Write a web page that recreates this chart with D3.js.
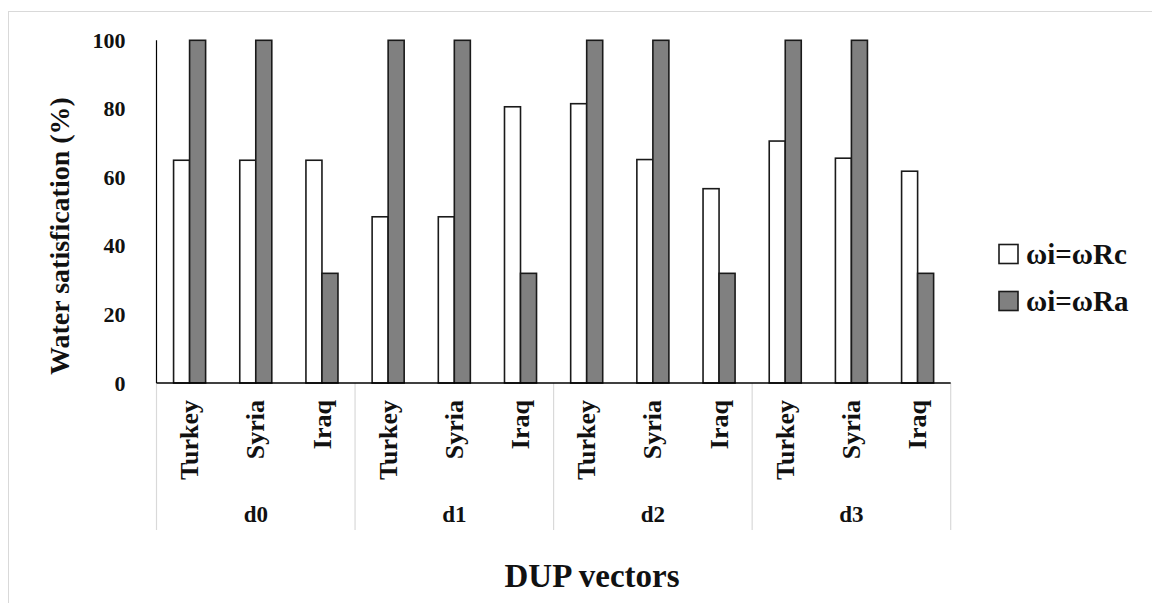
<!DOCTYPE html>
<html>
<head>
<meta charset="utf-8">
<script src="https://cdn.jsdelivr.net/npm/d3@7"></script>
<style>
  html, body { margin: 0; padding: 0; background: #fff; }
  svg { display: block; }
  text { font-family: "Liberation Serif", "Times New Roman", serif; font-weight: bold; fill: #111; }
</style>
</head>
<body>
<svg id="chart" width="1152" height="603"></svg>
<script>
// Water satisfaction per riparian country under each DUP vector
const vectors = ["d0", "d1", "d2", "d3"];
const countries = ["Turkey", "Syria", "Iraq"];
const seriesNames = ["ωi=ωRc", "ωi=ωRa"];
const seriesFills = ["#ffffff", "#808080"];
// values listed vector by vector, Turkey / Syria / Iraq
const rcValues = [65, 65, 65, 48.5, 48.5, 80.6, 81.5, 65.2, 56.7, 70.6, 65.6, 61.8];
const raValues = [100, 100, 32, 100, 100, 32, 100, 100, 32, 100, 100, 32];
const yTicks = [0, 20, 40, 60, 80, 100];

const rows = [];
vectors.forEach((v, vi) => countries.forEach((c, ci) => {
  const i = vi * countries.length + ci;
  rows.push({ key: v + "|" + c, vector: v, country: c, values: [rcValues[i], raValues[i]] });
}));

const svg = d3.select("#chart");
const plotLeft = 156.5, plotRight = 950.7, plotTop = 40.3, plotBottom = 383;

// outer frame
svg.append("rect").attr("x", 8.5).attr("y", 11.5).attr("width", 1200).attr("height", 700)
  .attr("fill", "none").attr("stroke", "#d9d9d9").attr("stroke-width", 1);

const x0 = d3.scaleBand().domain(rows.map(d => d.key)).range([plotLeft, plotRight]).padding(0);
const bw = x0.bandwidth();
const barW = bw * 0.242;
const x1 = d3.scaleBand().domain(seriesNames).range([bw / 2 - barW, bw / 2 + barW]).padding(0);
const y = d3.scaleLinear().domain([0, 100]).range([plotBottom, plotTop]);

// y tick labels
const yAxis = d3.axisLeft(y).tickValues(yTicks).tickSize(0).tickPadding(31).tickFormat(d3.format("d"));
const gy = svg.append("g").attr("transform", `translate(${plotLeft},0)`).call(yAxis);
gy.select(".domain").remove();
gy.selectAll("text").attr("font-size", 22).attr("font-family", null).attr("fill", "#111");

// category separators beneath the baseline
const groupEdges = vectors.map(v => x0(v + "|" + countries[0])).concat([plotRight]);
svg.append("g").selectAll("line").data(groupEdges).join("line")
  .attr("x1", d => d).attr("x2", d => d).attr("y1", plotBottom).attr("y2", 530)
  .attr("stroke", "#d9d9d9").attr("stroke-width", 1.2);

// bars
const g = svg.append("g");
g.selectAll("g").data(rows).join("g")
  .attr("transform", d => `translate(${x0(d.key)},0)`)
  .selectAll("rect").data(d => d.values.map((v, i) => ({ v, i })))
  .join("rect")
  .attr("x", d => x1(seriesNames[d.i]))
  .attr("y", d => y(d.v))
  .attr("width", x1.bandwidth())
  .attr("height", d => y(0) - y(d.v))
  .attr("fill", d => seriesFills[d.i])
  .attr("stroke", "#1a1a1a").attr("stroke-width", 1.6);

// axis lines
svg.append("line").attr("x1", plotLeft).attr("x2", plotLeft).attr("y1", plotTop).attr("y2", plotBottom)
  .attr("stroke", "#000").attr("stroke-width", 1.2);
svg.append("line").attr("x1", plotLeft).attr("x2", plotRight).attr("y1", plotBottom).attr("y2", plotBottom)
  .attr("stroke", "#000").attr("stroke-width", 1.5);

// country labels (rotated)
svg.append("g").selectAll("text").data(rows).join("text")
  .attr("transform", d => `translate(${x0(d.key) + bw / 2},400) rotate(-90)`)
  .attr("text-anchor", "end").attr("dy", "0.33em")
  .attr("font-size", 26).text(d => d.country);

// vector labels
svg.append("g").selectAll("text").data(vectors).join("text")
  .attr("x", (v, i) => (groupEdges[i] + groupEdges[i + 1]) / 2)
  .attr("y", 522).attr("text-anchor", "middle").attr("font-size", 23)
  .text(d => d);

// axis titles
svg.append("text").attr("x", 592).attr("y", 587).attr("text-anchor", "middle")
  .attr("font-size", 33).text("DUP vectors");
svg.append("text").attr("transform", "translate(69,236) rotate(-90)")
  .attr("text-anchor", "middle").attr("font-size", 28).text("Water satisfication (%)");

// legend
const lg = svg.append("g").attr("transform", "translate(999,0)");
const ly = [254, 301];
lg.selectAll("rect").data(seriesNames).join("rect")
  .attr("x", 0).attr("y", (d, i) => ly[i] - 9.5).attr("width", 19).attr("height", 19)
  .attr("fill", (d, i) => seriesFills[i]).attr("stroke", "#1a1a1a").attr("stroke-width", 1.6);
lg.selectAll("text").data(seriesNames).join("text")
  .attr("x", 27).attr("y", (d, i) => ly[i]).attr("dy", "0.35em")
  .attr("font-size", 29).text(d => d);
</script>
</body>
</html>
